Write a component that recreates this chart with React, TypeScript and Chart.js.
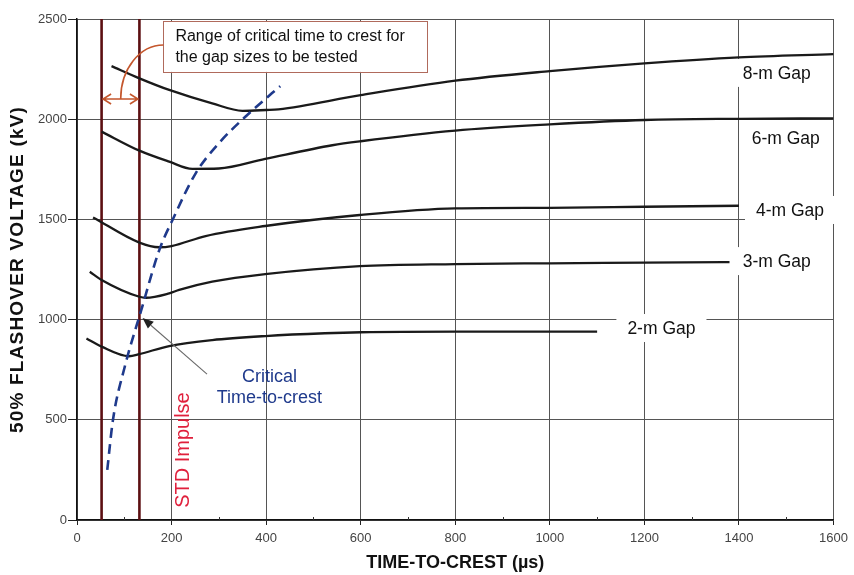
import React, { useEffect, useRef } from 'react';
import { Chart, registerables } from 'chart.js';

Chart.register(...registerables);

const FONT = "'Liberation Sans', Arial, Helvetica, sans-serif";

// ---------- data (µs, kV) ----------
const gap8Time = [73, 132, 195, 286, 350, 400, 426, 600, 800, 1000, 1200, 1400, 1600];
const gap8Kv = [2265, 2204, 2146, 2079, 2042, 2046, 2049, 2120, 2192, 2240, 2279, 2309, 2325];

const gap6Time = [52, 132, 195, 244, 300, 398, 540, 600, 800, 1000, 1200, 1400, 1600];
const gap6Kv = [1938, 1843, 1788, 1752, 1754, 1802, 1870, 1890, 1943, 1974, 1996, 2002, 2004];

const gap4Time = [34, 132, 174, 200, 272, 398, 598, 800, 1000, 1200, 1400];
const gap4Kv = [1510, 1384, 1361, 1367, 1417, 1467, 1522, 1555, 1558, 1563, 1568];

const gap3Time = [27, 52, 132, 146, 195, 216, 286, 398, 598, 800, 1000, 1200, 1380];
const gap3Kv = [1239, 1198, 1114, 1109, 1131, 1148, 1189, 1227, 1267, 1277, 1281, 1284, 1287];

const gap2Time = [20, 52, 110, 132, 195, 286, 398, 524, 601, 800, 1100];
const gap2Kv = [906, 865, 817, 828, 868, 898, 918, 932, 937, 940, 940];

const criticalTime = [64, 76, 101, 136, 174, 202, 251, 300, 356, 412, 430];
const criticalKv = [250, 499, 765, 1048, 1347, 1497, 1730, 1880, 2012, 2129, 2165];

const rangeLimitsTime = [52, 132];
const rangeLimitsKv = [0, 2500];

const xTickStep = 200;
const yTickStep = 500;
const xMinorTicks = [100, 300, 500, 700, 900, 1100, 1300, 1500];

const gapLabels = ['8-m Gap', '6-m Gap', '4-m Gap', '3-m Gap', '2-m Gap'];
const rangeText = ['Range of critical time to crest for', 'the gap sizes to be tested'];
const criticalText = ['Critical', 'Time-to-crest'];
const stdText = 'STD Impulse';
const yTitle = '50% FLASHOVER VOLTAGE (kV)';
const xTitle = 'TIME-TO-CREST (µs)';

// ---------- annotation anchors (data coordinates) ----------
const gapLabelAnchors = [
  { t: 1480, kv: 2231 },
  { t: 1499, kv: 1906 },
  { t: 1508, kv: 1547 },
  { t: 1480, kv: 1292 },
  { t: 1236, kv: 958 },
];
const rangeBox = { t1: 182.7, t2: 741, kv1: 2490, kv2: 2236 };
const arcCenter = { t: 182.7, kv: 2101 };
const arcEnd = { t: 92.4, kv: 2370 };
const stdAnchor = { t: 226, kv: 349 };
const criticalAnchor = { t: 407, kv: 713 };
const pointerFrom = { t: 275, kv: 728 };
const pointerTo = { t: 138.6, kv: 1008 };

const toPoints = (xs: number[], ys: number[]) => xs.map((x, i) => ({ x, y: ys[i] }));

const annotPlugin = {
  id: 'annot',
  beforeDatasetsDraw(chart: any) {
    const { ctx } = chart;
    const xs = chart.scales.x;
    const ys = chart.scales.y;
    ctx.save();
    // gap labels with white backgrounds
    ctx.font = `17.5px ${FONT}`;
    ctx.textAlign = 'center';
    ctx.textBaseline = 'middle';
    gapLabelAnchors.forEach((a, i) => {
      const px = xs.getPixelForValue(a.t);
      const py = ys.getPixelForValue(a.kv);
      const w = ctx.measureText(gapLabels[i]).width + 22;
      ctx.fillStyle = '#ffffff';
      ctx.fillRect(px - w / 2, py - 14, w, 28);
      ctx.fillStyle = '#111111';
      ctx.fillText(gapLabels[i], px, py + 1);
    });
    // range box
    const bx1 = xs.getPixelForValue(rangeBox.t1);
    const bx2 = xs.getPixelForValue(rangeBox.t2);
    const by1 = ys.getPixelForValue(rangeBox.kv1);
    const by2 = ys.getPixelForValue(rangeBox.kv2);
    ctx.fillStyle = '#ffffff';
    ctx.fillRect(bx1, by1, bx2 - bx1, by2 - by1);
    ctx.strokeStyle = '#b06a5c';
    ctx.lineWidth = 1;
    ctx.strokeRect(Math.round(bx1) + 0.5, Math.round(by1) + 0.5, Math.round(bx2 - bx1), Math.round(by2 - by1));
    ctx.fillStyle = '#111111';
    ctx.font = `16px ${FONT}`;
    ctx.textAlign = 'left';
    ctx.fillText(rangeText[0], bx1 + 12, by1 + 16);
    ctx.fillText(rangeText[1], bx1 + 12, by1 + 36.5);
    ctx.restore();
  },
  afterDatasetsDraw(chart: any) {
    const { ctx } = chart;
    const xs = chart.scales.x;
    const ys = chart.scales.y;
    ctx.save();
    // curved arrow from box to range
    const cx = xs.getPixelForValue(arcCenter.t);
    const cy = ys.getPixelForValue(arcCenter.kv);
    const ex = xs.getPixelForValue(arcEnd.t);
    const ey = ys.getPixelForValue(arcEnd.kv);
    const rx = cx - ex;
    const ry = cy - ey;
    ctx.strokeStyle = '#c4562c';
    ctx.lineWidth = 1.6;
    ctx.beginPath();
    ctx.ellipse(cx, cy, rx, ry, 0, Math.PI, 1.5 * Math.PI);
    ctx.stroke();
    // double-headed horizontal arrow
    const lx = xs.getPixelForValue(rangeLimitsTime[0]) + 1.5;
    const rxp = xs.getPixelForValue(rangeLimitsTime[1]) - 1.5;
    ctx.beginPath();
    ctx.moveTo(lx, cy);
    ctx.lineTo(rxp, cy);
    ctx.moveTo(lx + 8, cy - 5);
    ctx.lineTo(lx, cy);
    ctx.lineTo(lx + 8, cy + 5);
    ctx.moveTo(rxp - 8, cy - 5);
    ctx.lineTo(rxp, cy);
    ctx.lineTo(rxp - 8, cy + 5);
    ctx.stroke();

    // STD Impulse
    const sx = xs.getPixelForValue(stdAnchor.t);
    const sy = ys.getPixelForValue(stdAnchor.kv);
    ctx.save();
    ctx.translate(sx, sy);
    ctx.rotate(-Math.PI / 2);
    ctx.fillStyle = '#e0203c';
    ctx.font = `20px ${FONT}`;
    ctx.textAlign = 'center';
    ctx.textBaseline = 'middle';
    ctx.fillText(stdText, 0, 0);
    ctx.restore();

    // Critical time-to-crest text
    const tx = xs.getPixelForValue(criticalAnchor.t);
    const ty = ys.getPixelForValue(criticalAnchor.kv);
    ctx.fillStyle = '#1f3a8c';
    ctx.font = `18px ${FONT}`;
    ctx.textAlign = 'center';
    ctx.textBaseline = 'middle';
    ctx.fillText(criticalText[0], tx, ty);
    ctx.fillText(criticalText[1], tx, ty + 21);

    // pointer arrow
    const p1x = xs.getPixelForValue(pointerFrom.t);
    const p1y = ys.getPixelForValue(pointerFrom.kv);
    const p2x = xs.getPixelForValue(pointerTo.t);
    const p2y = ys.getPixelForValue(pointerTo.kv);
    const ang = Math.atan2(p2y - p1y, p2x - p1x);
    const hl = 11;
    const hw = 4.5;
    const bxp = p2x - hl * Math.cos(ang);
    const byp = p2y - hl * Math.sin(ang);
    ctx.strokeStyle = '#6a6a6a';
    ctx.lineWidth = 1.1;
    ctx.beginPath();
    ctx.moveTo(p1x, p1y);
    ctx.lineTo(bxp, byp);
    ctx.stroke();
    ctx.fillStyle = '#222222';
    ctx.beginPath();
    ctx.moveTo(p2x, p2y);
    ctx.lineTo(bxp + hw * Math.sin(ang), byp - hw * Math.cos(ang));
    ctx.lineTo(bxp - hw * Math.sin(ang), byp + hw * Math.cos(ang));
    ctx.closePath();
    ctx.fill();
    ctx.restore();
  },
  afterDraw(chart: any) {
    const { ctx, chartArea } = chart;
    const xs = chart.scales.x;
    const bottom = chartArea.bottom;
    ctx.save();
    ctx.strokeStyle = '#333333';
    ctx.lineWidth = 1;
    xMinorTicks.forEach((t) => {
      const px = Math.round(xs.getPixelForValue(t)) + 0.5;
      ctx.beginPath();
      ctx.moveTo(px, bottom);
      ctx.lineTo(px, bottom - 3);
      ctx.stroke();
    });
    // y-axis title (drawn with letter spacing)
    ctx.translate(18, (chartArea.top + chartArea.bottom) / 2);
    ctx.rotate(-Math.PI / 2);
    ctx.fillStyle = '#111111';
    ctx.font = `bold 19px ${FONT}`;
    try {
      (ctx as any).letterSpacing = '1.2px';
    } catch (e) {
      /* ignore */
    }
    ctx.textAlign = 'center';
    ctx.textBaseline = 'middle';
    ctx.fillText(yTitle, 0, 0);
    ctx.restore();
  },
};

export default function App() {
  const ref = useRef<HTMLCanvasElement | null>(null);

  useEffect(() => {
    if (!ref.current) return;
    Chart.defaults.font.family = FONT;
    const curveStyle = {
      borderColor: '#1a1a1a',
      borderWidth: 2.3,
      pointRadius: 0,
      cubicInterpolationMode: 'monotone' as const,
      fill: false,
    };
    const chart = new Chart(ref.current, {
      type: 'line',
      data: {
        datasets: [
          {
            label: 'Critical time-to-crest',
            data: toPoints(criticalTime, criticalKv),
            borderColor: '#1f3a8c',
            borderWidth: 2.6,
            borderDash: [10, 6],
            pointRadius: 0,
            cubicInterpolationMode: 'monotone',
            fill: false,
          },
          { label: gapLabels[0], data: toPoints(gap8Time, gap8Kv), ...curveStyle },
          { label: gapLabels[1], data: toPoints(gap6Time, gap6Kv), ...curveStyle },
          { label: gapLabels[2], data: toPoints(gap4Time, gap4Kv), ...curveStyle },
          { label: gapLabels[3], data: toPoints(gap3Time, gap3Kv), ...curveStyle },
          { label: gapLabels[4], data: toPoints(gap2Time, gap2Kv), ...curveStyle },
          {
            label: 'Range low',
            data: rangeLimitsKv.map((kv) => ({ x: rangeLimitsTime[0], y: kv })),
            borderColor: '#5c0f12',
            borderWidth: 2.6,
            pointRadius: 0,
          },
          {
            label: 'Range high',
            data: rangeLimitsKv.map((kv) => ({ x: rangeLimitsTime[1], y: kv })),
            borderColor: '#5c0f12',
            borderWidth: 2.6,
            pointRadius: 0,
          },
        ],
      },
      options: {
        responsive: false,
        animation: false,
        devicePixelRatio: 1,
        layout: { padding: { top: 19, right: 15, left: 0, bottom: 0 } },
        plugins: {
          legend: { display: false },
          tooltip: { enabled: false },
        },
        scales: {
          x: {
            type: 'linear',
            min: 0,
            max: 1600,
            ticks: {
              stepSize: xTickStep,
              color: '#444444',
              font: { size: 13 },
              padding: 6,
              maxRotation: 0,
              autoSkip: false,
              callback: (v: any) => String(v),
            },
            grid: { color: '#555555', lineWidth: 1, tickLength: 5, tickColor: '#222222' },
            border: { color: '#111111', width: 1.5 },
            title: {
              display: true,
              text: xTitle,
              color: '#111111',
              font: { size: 18, weight: 'bold', lineHeight: 1 },
              padding: { top: 0, bottom: 3 },
            },
            afterFit: (s: any) => {
              s.height = 55;
            },
          },
          y: {
            type: 'linear',
            min: 0,
            max: 2500,
            ticks: {
              stepSize: yTickStep,
              color: '#444444',
              font: { size: 13 },
              padding: 1,
              callback: (v: any) => String(v),
            },
            grid: { color: '#555555', lineWidth: 1, tickLength: 9, tickColor: '#222222' },
            border: { color: '#111111', width: 1.5 },
            title: { display: false },
            afterFit: (s: any) => {
              s.width = 77;
            },
          },
        },
      },
      plugins: [annotPlugin],
    } as any);
    return () => chart.destroy();
  }, []);

  return (
    <div style={{ position: 'absolute', left: 0, top: 0, width: 854, height: 575, background: '#ffffff' }}>
      <canvas ref={ref} width={854} height={575} style={{ display: 'block', width: 854, height: 575 }} />
    </div>
  );
}
